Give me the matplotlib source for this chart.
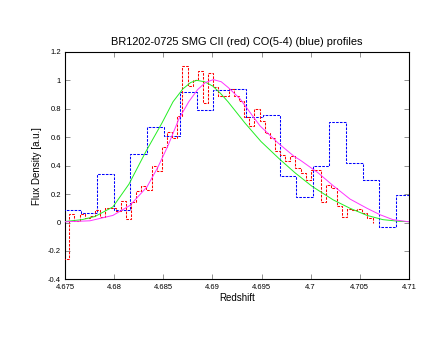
import numpy as np
import matplotlib
matplotlib.use("Agg")
import matplotlib.pyplot as plt

plt.rcParams['font.family'] = ['Liberation Sans', 'DejaVu Sans']

# CII (red) spectrum: first bin edge, bin width, fluxes
cii_z0 = 4.67492
cii_dz = 0.000523
cii_flux = [-0.26, 0.06, 0.01, 0.06, 0.035,
            0.047, 0.085, 0.042, 0.10, 0.10, 0.078, 0.148, 0.024, 0.141, 0.219,
            0.259, 0.231, 0.395, 0.36, 0.53, 0.64, 0.595, 0.75,
            1.10, 0.96, 1.00, 1.066, 0.84, 1.05, 0.95, 0.89, 0.89, 0.937,
            0.89, 0.854, 0.74, 0.68, 0.80, 0.713, 0.63, 0.595, 0.506, 0.478,
            0.435, 0.466, 0.384, 0.349, 0.30, 0.372, 0.372,
            0.145, 0.266, 0.243, 0.113, 0.042, 0.094, 0.09, 0.094, 0.07, 0.03]

# CO(5-4) (blue) spectrum
co_z0 = 4.67491
co_dz = 0.001687
co_flux = [0.09, 0.066, 0.34, 0.085, 0.48, 0.67, 0.61, 0.92, 0.79, 0.93, 0.94,
           0.74, 0.755, 0.33, 0.18, 0.40, 0.71, 0.42, 0.30, -0.03, 0.195]

# fitted profiles
green_z = [4.6750, 4.67673, 4.67805, 4.67988, 4.68151, 4.68324, 4.68487, 4.68600,
           4.68700, 4.68780, 4.68840, 4.68920, 4.69003, 4.69080, 4.69158, 4.69331,
           4.69494, 4.69677, 4.69840, 4.70013, 4.70227, 4.70400, 4.70573, 4.70735,
           4.70908, 4.7100]
green_f = [0.007, 0.02, 0.042, 0.11, 0.27, 0.50, 0.70, 0.85,
           0.94, 0.985, 1.0, 0.99, 0.96, 0.91, 0.85, 0.70,
           0.57, 0.45, 0.35, 0.255, 0.16, 0.10, 0.05, 0.02,
           0.008, 0.006]

magenta_z = [4.6750, 4.67754, 4.67988, 4.68161, 4.68334, 4.68446, 4.68548, 4.68660,
             4.68760, 4.68850, 4.68930, 4.69010, 4.69090, 4.69160, 4.69281, 4.69484,
             4.69667, 4.69830, 4.69891, 4.70074, 4.70227, 4.70400, 4.70573, 4.70705,
             4.70837, 4.7100]
magenta_f = [0.005, 0.012, 0.05, 0.12, 0.25, 0.39, 0.54, 0.73,
             0.85, 0.935, 0.985, 1.005, 0.99, 0.95, 0.87, 0.68,
             0.56, 0.466, 0.44, 0.35, 0.26, 0.165, 0.10, 0.055,
             0.02, 0.005]

fig = plt.figure(figsize=(4.36, 3.37), dpi=100)
ax = fig.add_axes([0.149, 0.171, 0.789, 0.675])

cii_edges = cii_z0 + cii_dz * np.arange(len(cii_flux) + 1)
co_edges = co_z0 + co_dz * np.arange(len(co_flux) + 1)

dash = (0, (2.5, 1.2))
ax.stairs(co_flux, co_edges, color='#0000ff', lw=0.75, linestyle=dash, zorder=3)
ax.stairs(cii_flux, cii_edges, color='#ff0000', lw=0.75, linestyle=dash, zorder=4)
ax.plot(green_z, green_f, color='#22ee22', lw=0.7, zorder=5)
ax.plot(magenta_z, magenta_f, color='#ff33ff', lw=0.7, zorder=5)

ax.set_xlim(4.675, 4.71)
ax.set_ylim(-0.4, 1.2)
ax.set_xticks(np.arange(4.675, 4.7101, 0.005))
ax.set_xticklabels(['4.675', '4.68', '4.685', '4.69', '4.695', '4.7', '4.705', '4.71'])
ax.set_yticks(np.arange(-0.4, 1.21, 0.2))
ax.set_yticklabels(['-0.4', '-0.2', '0', '0.2', '0.4', '0.6', '0.8', '1', '1.2'])
ax.tick_params(direction='in', length=3.6, width=0.6, color='#808080',
               top=True, right=True, labelsize=5.5, pad=3)
for sp in ax.spines.values():
    sp.set_linewidth(0.8)

ax.set_title('BR1202-0725 SMG CII (red) CO(5-4) (blue) profiles', fontsize=7.9, pad=5)
ax.set_xlabel('Redshift', fontsize=7, labelpad=2)
ax.set_ylabel('Flux Density [a.u.]', fontsize=7, labelpad=4)

fig.savefig('out.png', dpi=100)
